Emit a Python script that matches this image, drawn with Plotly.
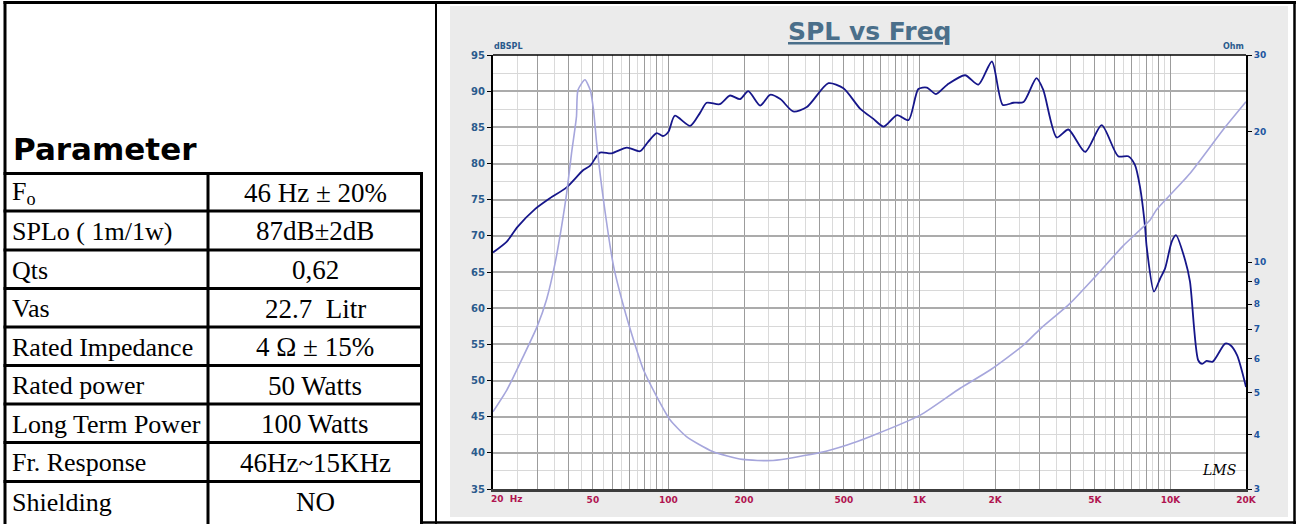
import plotly.graph_objects as go

# ---------------- data ----------------
spl_freq = [20, 22.7, 25, 29.4, 33.7, 39.3, 45.8, 48.8, 53.3, 59.3, 68.3, 77, 83, 89.8, 95, 100,
            106, 122, 133.6, 142, 160, 176, 193, 208, 232, 254, 279, 314, 356, 434, 498, 580,
            654, 720, 814, 905, 990, 1070, 1164, 1291, 1520, 1718, 1944, 2148, 2368, 2600, 2925,
            3112, 3524, 3920, 4570, 5320, 6190, 6790, 7220, 7560, 7920, 8040, 8600, 9100, 9520,
            10120, 10520, 11430, 11960, 12900, 13380, 13940, 14740, 16520, 17300, 18420, 20000]
spl_db = [67.7, 69.2, 71.2, 73.7, 75.2, 76.7, 79.1, 79.7, 81.5, 81.4, 82.2, 81.7, 83.0, 84.2, 83.8, 84.4,
          86.6, 85.2, 87.0, 88.4, 88.2, 89.4, 88.9, 90.0, 88.0, 89.5, 88.9, 87.2, 87.8, 91.1, 90.4, 87.6,
          86.2, 85.1, 86.7, 86.0, 90.3, 90.5, 89.6, 90.9, 92.2, 90.9, 94.1, 88.1, 88.4, 88.5, 91.8,
          90.2, 83.6, 84.7, 81.6, 85.3, 81.0, 81.0, 79.8, 76.8, 71.3, 68.5, 62.3, 64.1, 65.5,
          69.2, 70.1, 66.7, 63.7, 52.8, 52.3, 52.7, 52.6, 55.1, 54.9, 53.5, 49.1]

imp_freq = [20, 22.7, 25.6, 30, 32.7, 35.3, 37.5, 39.3, 41.1, 43.0, 43.6, 46.5, 48.8, 50.3, 51.8,
            55.1, 60.5, 66.3, 72.7, 79.6, 89.8, 101.5, 118, 150, 197, 261, 402, 515, 634, 1008,
            1453, 1912, 2600, 3016, 3980, 5080, 6480, 8300, 8800, 11960, 16240, 20000]
imp_ohm = [4.52, 5.07, 5.84, 7.11, 8.2, 9.9, 12.06, 14.4, 17.8, 21.6, 24.9, 26.3, 24.9, 22.4, 18.7,
           13.9, 9.76, 7.9, 6.6, 5.64, 4.9, 4.33, 3.96, 3.66, 3.51, 3.49, 3.64, 3.79, 3.96, 4.44,
           5.12, 5.64, 6.44, 7.0, 8.03, 9.33, 10.9, 12.5, 13.2, 16.0, 20.2, 23.4]

x_major = [20, 30, 40, 50, 60, 70, 80, 90, 100, 200, 300, 400, 500, 600, 700, 800, 900,
           1000, 2000, 3000, 4000, 5000, 6000, 7000, 8000, 9000, 10000, 20000]
x_labels = {50: "50", 100: "100", 200: "200", 500: "500", 1000: "1K", 2000: "2K",
            5000: "5K", 10000: "10K", 20000: "20K"}
x_minor = [25, 35, 45, 55, 65, 75, 85, 95, 150, 250, 350, 450, 550, 650, 750, 850, 950,
           1500, 2500, 3500, 4500, 5500, 6500, 7500, 8500, 9500, 15000]
y_major = [35, 40, 45, 50, 55, 60, 65, 70, 75, 80, 85, 90, 95]
y_minor = [37.5, 42.5, 47.5, 52.5, 57.5, 62.5, 67.5, 72.5, 77.5, 82.5, 87.5, 92.5]
ohm_ticks = [3, 4, 5, 6, 7, 8, 9, 10, 20, 30]

param_names = ["F<sub>o</sub>", "SPLo ( 1m/1w)", "Qts", "Vas", "Rated Impedance", "Rated power",
               "Long Term Power", "Fr. Response", "Shielding"]
param_values = ["46 Hz ± 20%", "87dB±2dB", "0,62", "22.7  Litr", "4 Ω ± 15%", "50 Watts",
                "100 Watts", "46Hz~15KHz", "NO"]

# ---------------- layout helpers ----------------
W, H = 1302, 524
def px(x):
    return x / W
def py(y):
    return 1 - y / H

PL, PR, PT, PB = 493, 1246, 55, 489

fig = go.Figure()
fig.add_trace(go.Scatter(x=imp_freq, y=imp_ohm, yaxis="y2", mode="lines",
                         line=dict(color="#a6a6dc", width=1.6, shape="spline", smoothing=0.6),
                         hoverinfo="skip", showlegend=False))
fig.add_trace(go.Scatter(x=spl_freq, y=spl_db, mode="lines",
                         line=dict(color="#16168a", width=1.8, shape="spline", smoothing=0.7),
                         hoverinfo="skip", showlegend=False))

fig.update_layout(
    width=W, height=H,
    margin=dict(l=0, r=0, t=0, b=0),
    paper_bgcolor="white", plot_bgcolor="white",
    xaxis=dict(type="log", range=[1.30103, 4.30103], domain=[px(PL), px(PR)],
               tickmode="array", tickvals=x_major,
               ticktext=[x_labels.get(v, "") for v in x_major], tickangle=0,
               showgrid=True, gridcolor="#9c9c9c", gridwidth=1,
               ticks="", showline=True, linecolor="#3c3c3c", linewidth=3,
               tickfont=dict(family="DejaVu Sans", size=9, weight="bold", color="#b01450"),
               minor=dict(tickvals=x_minor, showgrid=True, gridcolor="#dadada", gridwidth=1, ticks=""),
               zeroline=False, automargin=False, fixedrange=True),
    yaxis=dict(range=[35, 95], domain=[py(PB), py(PT)],
               tickmode="array", tickvals=y_major,
               showgrid=True, gridcolor="#ababab", gridwidth=1.5,
               ticks="outside", ticklen=4, tickcolor="#000000",
               showline=True, linecolor="#000000", linewidth=2,
               tickfont=dict(family="DejaVu Sans", size=10, weight="bold", color="#2a5a8c"),
               minor=dict(tickvals=y_minor, showgrid=True, gridcolor="#d8d8d8", gridwidth=1, ticks=""),
               zeroline=False, automargin=False, fixedrange=True),
    yaxis2=dict(type="log", range=[0.4771213, 1.4771213], overlaying="y", side="right",
                anchor="x", tickmode="array", tickvals=ohm_ticks,
                ticktext=[str(v) for v in ohm_ticks],
                showgrid=False, ticks="outside", ticklen=4, tickcolor="#000000",
                showline=True, linecolor="#000000", linewidth=2,
                tickfont=dict(family="DejaVu Sans", size=9, weight="bold", color="#1e56a0"),
                zeroline=False, automargin=False, fixedrange=True),
)

shapes = []
# gray chart panel and white plotting area
shapes.append(dict(type="rect", xref="paper", yref="paper", x0=px(450), x1=px(1288),
                   y0=py(517), y1=py(6), fillcolor="#ebebeb", line=dict(width=0), layer="below"))
shapes.append(dict(type="rect", xref="paper", yref="paper", x0=px(PL), x1=px(PR),
                   y0=py(PB), y1=py(PT), fillcolor="#ffffff", line=dict(width=0), layer="below"))
# top frame of plot area
shapes.append(dict(type="line", xref="paper", yref="paper", x0=px(PL), x1=px(PR),
                   y0=py(PT), y1=py(PT), line=dict(color="#000000", width=1.5)))

def hline(y, x0, x1, w=3):
    shapes.append(dict(type="line", xref="paper", yref="paper", x0=px(x0), x1=px(x1),
                       y0=py(y), y1=py(y), line=dict(color="#000000", width=w)))
def vline(x, y0, y1, w=3):
    shapes.append(dict(type="line", xref="paper", yref="paper", x0=px(x), x1=px(x),
                       y0=py(y0), y1=py(y1), line=dict(color="#000000", width=w)))

# outer frame
hline(2.5, 3.5, 1296, 3)
hline(522.5, 421, 1296, 2.5)
vline(5, 1, 524, 3)
vline(436, 1, 524, 2)
vline(1294.5, 1, 524, 2.5)

# table grid
row_edges = [173.5, 211, 250, 288.5, 327, 365.5, 404, 442.5, 481.5, 521]
for ry in row_edges[:-1]:
    hline(ry, 3.5, 423, 3)
vline(208, 172, 524, 3)
vline(421.5, 172, 524, 3)

annotations = []
annotations.append(dict(text="<b>Parameter</b>", xref="paper", yref="paper", x=px(11), y=py(149),
                        xanchor="left", yanchor="middle", showarrow=False,
                        font=dict(family="Arial Black, DejaVu Sans", size=31, color="#000000")))
for i, (n, v) in enumerate(zip(param_names, param_values)):
    cy = (row_edges[i] + row_edges[i + 1]) / 2 + 1
    annotations.append(dict(text=n, xref="paper", yref="paper", x=px(10), y=py(cy),
                            xanchor="left", yanchor="middle", showarrow=False,
                            font=dict(family="Liberation Serif", size=26, color="#000000")))
    annotations.append(dict(text=v, xref="paper", yref="paper", x=px(315), y=py(cy),
                            xanchor="center", yanchor="middle", showarrow=False,
                            font=dict(family="Liberation Serif", size=27, color="#000000")))

# chart texts
annotations.append(dict(text="<b><u>SPL vs Freq</u></b>", xref="paper", yref="paper",
                        x=px(870), y=py(31), xanchor="center", yanchor="middle", showarrow=False,
                        font=dict(family="DejaVu Sans", size=25, color="#4a6f8a")))
annotations.append(dict(text="dBSPL", xref="paper", yref="paper", x=px(492), y=py(47),
                        xanchor="left", yanchor="middle", showarrow=False,
                        font=dict(family="DejaVu Sans", size=8, weight="bold", color="#2a5a8c")))
annotations.append(dict(text="Ohm", xref="paper", yref="paper", x=px(1246), y=py(47),
                        xanchor="right", yanchor="middle", showarrow=False,
                        font=dict(family="DejaVu Sans", size=8, weight="bold", color="#2a5a8c")))
annotations.append(dict(text="20\u00a0\u00a0Hz", xref="paper", yref="paper",
                        x=px(489), y=py(499), xanchor="left", yanchor="middle", showarrow=False,
                        font=dict(family="DejaVu Sans", size=9, weight="bold", color="#b01450")))
annotations.append(dict(text="<i>LMS</i>", xref="paper", yref="paper", x=px(1219), y=py(470),
                        xanchor="center", yanchor="middle", showarrow=False,
                        font=dict(family="DejaVu Serif", size=14, color="#000000")))

fig.update_layout(shapes=shapes, annotations=annotations)
fig.write_html("out.html", config={"displayModeBar": False},
               post_script="document.body.style.margin='0px';document.body.style.overflow='hidden';")
